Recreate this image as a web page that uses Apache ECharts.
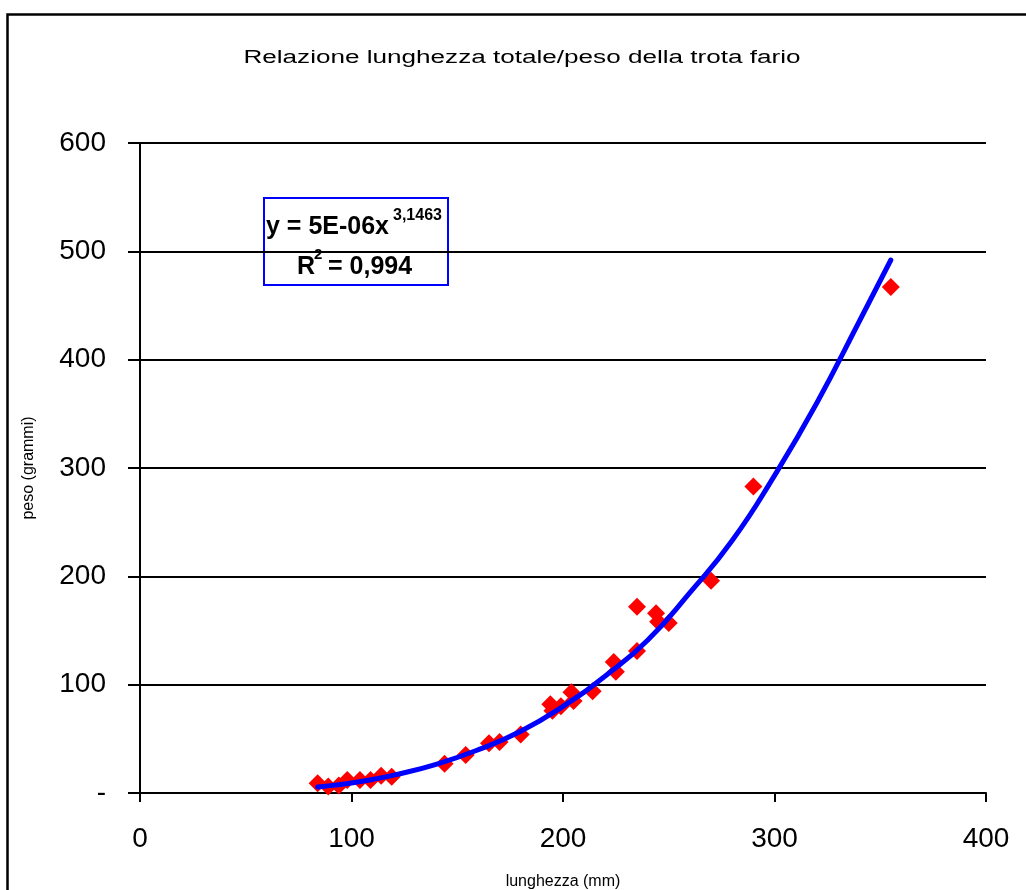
<!DOCTYPE html>
<html>
<head>
<meta charset="utf-8">
<script src="https://cdn.jsdelivr.net/npm/echarts@6/dist/echarts.min.js"></script>
<style>
html,body{margin:0;padding:0;background:#fff;}
#chart{width:1026px;height:890px;}
</style>
</head>
<body>
<div id="chart"></div>
<script>
// Observed points (length mm, weight g)
var lengths = [84, 89, 94, 98, 104, 109, 114, 119, 144, 154, 165, 170, 180, 194, 195, 199, 204, 205, 214, 224, 225, 235, 235, 244, 245, 250, 270, 290, 355];
var weights = [9, 6, 7, 12, 12, 12, 16, 15, 27, 35, 46, 47, 54, 82, 76, 80, 93, 85, 94, 121, 112, 131, 172, 166, 158, 157, 196, 283, 467];
// Trendline points
var trendX = [84, 90, 100, 110, 120, 140, 160, 180, 200, 220, 240, 260, 280, 300, 320, 340, 355];
var trendY = [5.5, 6.8, 9.2, 12.5, 16.5, 26.5, 40, 57, 80, 108, 141, 185, 233, 293, 360, 435, 492];
var xTicks = [0, 100, 200, 300, 400];
var yTicks = [0, 100, 200, 300, 400, 500, 600];

var titleText = 'Relazione lunghezza totale/peso della trota fario';
var xTitle = 'lunghezza (mm)';
var yTitle = 'peso (grammi)';

var scatterData = lengths.map(function (x, i) { return [x, weights[i]]; });
var trendData = trendX.map(function (x, i) { return [x, trendY[i]]; });

var font = 'Liberation Sans, Arial, sans-serif';
var chart = echarts.init(document.getElementById('chart'));
chart.setOption({
  animation: false,
  backgroundColor: '#ffffff',
  grid: { left: 140, right: 40, top: 143, bottom: 97, containLabel: false, outerBoundsMode: 'none' },
  xAxis: {
    type: 'value', min: 0, max: 400, interval: 100,
    axisLine: { show: true, lineStyle: { color: '#000', width: 2 } },
    axisTick: { show: true, inside: false, length: 9, lineStyle: { color: '#000', width: 2 } },
    axisLabel: { color: '#000', fontSize: 28, fontFamily: font, margin: 32,
      formatter: function (v) { return xTicks.indexOf(v) >= 0 ? String(v) : ''; } },
    splitLine: { show: false },
    name: xTitle, nameLocation: 'middle', nameGap: 81,
    nameTextStyle: { color: '#000', fontSize: 16, fontFamily: font }
  },
  yAxis: {
    type: 'value', min: 0, max: 600, interval: 100,
    axisLine: { show: true, lineStyle: { color: '#000', width: 2 } },
    axisTick: { show: true, inside: false, length: 12, lineStyle: { color: '#000', width: 2 } },
    axisLabel: { color: '#000', fontSize: 28, fontFamily: font, margin: 34,
      formatter: function (v) { return v === 0 ? '-' : (yTicks.indexOf(v) >= 0 ? String(v) : ''); } },
    splitLine: { show: true, lineStyle: { color: '#000', width: 2 } },
    name: yTitle, nameLocation: 'middle', nameGap: 103, nameRotate: 90,
    nameTextStyle: { color: '#000', fontSize: 16, fontFamily: font }
  },
  series: [
    {
      type: 'scatter', data: scatterData, symbol: 'diamond', symbolSize: 18,
      itemStyle: { color: '#ff0000', opacity: 1 }, z: 2
    },
    {
      type: 'line', data: trendData, smooth: true, showSymbol: false, symbol: 'none',
      lineStyle: { color: '#0000ff', width: 5, cap: 'round' }, z: 3
    }
  ],
  graphic: [
    { type: 'rect', left: 5, top: 12, shape: { width: 1040, height: 900 },
      style: { fill: 'none', stroke: '#000', lineWidth: 2.5 }, silent: true },
    { type: 'text', x: 522, y: 58, scaleX: 1.45, style: { text: titleText, fill: '#000',
      font: '18px ' + font, textAlign: 'center', textVerticalAlign: 'middle' } },
    { type: 'rect', shape: { x: 264, y: 198, width: 184, height: 87 },
      style: { fill: 'none', stroke: '#0000ff', lineWidth: 2 } },
    { type: 'text', x: 266, y: 227, style: { text: 'y = 5E-06x', fill: '#000',
      font: 'bold 25px ' + font, textAlign: 'left', textVerticalAlign: 'middle' } },
    { type: 'text', x: 393, y: 216, style: { text: '3,1463', fill: '#000',
      font: 'bold 16px ' + font, textAlign: 'left', textVerticalAlign: 'middle' } },
    { type: 'text', x: 297, y: 267, style: { text: 'R', fill: '#000',
      font: 'bold 25px ' + font, textAlign: 'left', textVerticalAlign: 'middle' } },
    { type: 'text', x: 314, y: 255, style: { text: '2', fill: '#000',
      font: 'bold 15px ' + font, textAlign: 'left', textVerticalAlign: 'middle' } },
    { type: 'text', x: 328, y: 267, style: { text: '= 0,994', fill: '#000',
      font: 'bold 25px ' + font, textAlign: 'left', textVerticalAlign: 'middle' } }
  ]
});
</script>
</body>
</html>
